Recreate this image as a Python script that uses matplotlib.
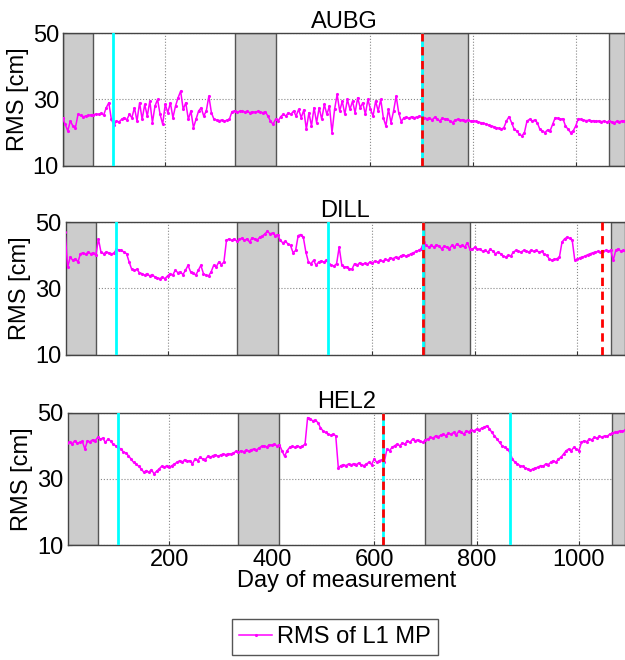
import numpy as np
import matplotlib
matplotlib.use("Agg")
import matplotlib.pyplot as plt

plt.rcParams['font.family'] = ['Liberation Sans', 'DejaVu Sans']

# day of measurement, sampled every 5 days
days = np.arange(0, 1100, 5)

stations = ['AUBG', 'DILL', 'HEL2']

rms_aubg = [
    24.3, 22.5, 20.5, 23.5, 22.0, 21.5, 25.5, 25.2, 24.8, 25.0,
    25.2, 25.3, 25.4, 25.6, 25.5, 25.8, 25.3, 27.5, 29.0, 24.0,
    22.3, 23.5, 23.2, 24.0, 24.5, 23.8, 25.5, 24.5, 27.5, 23.5,
    29.0, 24.0, 28.5, 25.0, 29.5, 23.0, 28.0, 30.0, 25.5, 22.5,
    28.5, 26.0, 29.0, 24.5, 28.0, 30.5, 32.5, 27.0, 29.0, 24.0,
    26.5, 21.5, 24.0, 26.5, 27.5, 25.0, 26.5, 31.0, 26.0, 24.0,
    23.8, 23.6, 23.8, 23.5, 23.7, 24.0, 26.3, 26.6, 26.2, 26.4,
    26.5, 26.2, 26.4, 26.0, 26.3, 26.1, 26.4, 26.2, 26.0, 26.3,
    25.0, 23.5, 22.5, 24.0, 23.5, 24.8, 25.5, 25.0, 26.0, 25.5,
    26.5, 25.0, 27.0, 24.5, 26.8, 21.0, 26.0, 22.0, 27.5, 23.0,
    27.5, 24.0, 28.5, 25.5, 28.0, 20.0, 27.0, 31.5, 26.5, 29.5,
    25.5, 30.0, 27.0, 29.5, 26.0, 30.5, 27.5, 29.0, 25.5, 30.0,
    27.0, 25.0, 29.5, 26.5, 30.0, 24.5, 22.0, 27.0, 23.0, 26.5,
    31.0, 26.0, 23.3, 24.5, 24.6, 24.3, 24.8, 24.5, 24.7, 24.9,
    24.8, 24.5, 24.2, 24.4, 23.8, 24.6, 24.0, 23.5, 24.3, 24.1,
    24.0, 23.5, 23.0, 23.8, 24.0, 23.7, 23.9, 23.6, 23.8, 23.5,
    23.6, 23.4, 23.2, 23.0, 22.8, 22.6, 22.3, 22.0, 21.8, 21.5,
    21.3, 21.0, 21.5, 23.5, 24.8, 23.0, 21.0, 20.5, 19.5, 19.0,
    20.0, 23.5, 24.0, 23.5, 23.8, 23.0, 21.0, 20.5, 20.0, 20.8,
    20.5, 22.5, 24.5, 24.3, 24.0, 24.2, 22.0, 21.0, 20.0, 20.5,
    22.0, 24.2, 24.0, 23.8, 23.6, 23.7, 23.5, 23.6, 23.4, 23.5,
    23.3, 23.5, 23.2, 23.4, 23.3, 23.0, 23.4, 23.3, 23.5, 23.4,
]

rms_dill = [
    47.0, 36.5, 39.5, 38.5, 39.0, 38.0, 40.5, 40.8, 40.3, 41.0,
    40.5, 40.8, 40.0, 45.0, 41.0, 40.5, 41.0, 40.8, 40.5, 40.6,
    41.8, 41.7, 41.5, 41.0, 40.5, 38.0, 35.8, 35.5, 35.8, 34.8,
    34.5, 34.0, 34.5, 33.8, 34.2, 33.5, 33.2, 33.0, 33.4, 33.0,
    33.8, 34.5, 34.0, 35.5, 34.8, 35.0, 34.2, 35.5, 37.0, 35.0,
    34.8, 34.0, 35.5, 37.0, 34.5, 34.0, 33.8, 35.0, 37.0, 36.5,
    38.0, 37.2, 38.0, 44.5, 45.0, 44.5, 45.0, 44.3, 44.8, 45.2,
    44.5, 45.0, 44.0, 45.3, 45.0, 44.6, 45.5, 45.8, 46.5, 47.3,
    46.5, 46.8, 46.0, 46.3, 44.5, 43.8, 44.2, 43.5, 43.0, 40.8,
    41.5, 46.0, 46.3, 45.5, 41.0, 38.0, 37.5, 38.5, 37.0, 38.0,
    38.3, 38.0, 38.5, 37.5, 37.0, 36.8, 37.5, 42.5, 37.2, 36.5,
    36.5, 36.0, 35.8, 37.5, 37.0, 37.8, 37.3, 37.6, 37.4, 38.0,
    37.7, 38.3, 38.0, 38.5, 38.2, 38.8, 38.5, 39.3, 39.0, 39.5,
    39.2, 39.8, 40.2, 39.8, 40.0, 40.5, 40.8, 41.2, 41.5, 42.0,
    44.0, 43.0, 42.5, 43.0, 42.5, 43.2, 42.8, 42.0, 42.8, 42.5,
    42.0, 43.0, 42.5, 43.5, 42.8, 43.0, 42.5, 43.8, 42.0, 41.8,
    42.5, 41.8, 42.0, 41.2, 41.5, 41.0, 41.8, 41.3, 40.5, 41.0,
    40.5, 39.8, 39.5, 40.0, 39.8, 41.0, 41.5, 41.2, 41.0, 41.5,
    41.3, 41.0, 41.6, 41.2, 41.5, 41.0, 41.2, 40.5, 40.0, 39.0,
    38.5, 38.8, 39.0, 39.5, 44.0, 45.0, 45.5, 45.2, 44.5, 38.5,
    38.8, 39.3, 39.5, 39.8, 40.2, 40.5, 40.8, 41.0, 41.2, 41.0,
    41.3, 41.5, 41.2, 41.6, 38.5, 41.5, 42.0, 41.2, 41.5, 41.0,
]

rms_hel2 = [
    40.9, 41.2, 40.5, 41.5, 40.8, 41.0, 41.3, 39.0, 41.5, 41.2,
    41.8, 41.5, 42.5, 42.0, 42.3, 41.0, 42.0, 41.5, 40.5, 40.0,
    39.5, 39.0, 38.2, 37.8, 37.0, 36.0, 35.0, 34.5, 33.8, 33.0,
    32.0, 32.5, 32.0, 32.8, 31.5, 32.3, 33.0, 33.8, 33.5, 34.0,
    33.5, 34.0, 34.5, 35.0, 35.5, 35.0, 35.8, 35.3, 35.5, 34.5,
    36.0, 35.5, 36.5, 36.0, 35.8, 36.8, 36.5, 37.0, 37.3, 36.8,
    37.2, 37.5, 37.3, 37.6, 37.5, 37.8, 38.3, 38.0, 38.5, 38.2,
    38.6, 38.4, 38.8, 39.0, 38.7, 39.3, 39.8, 40.0, 39.6, 40.3,
    40.2, 40.5, 40.0, 40.3, 38.5, 36.8, 38.5, 39.5, 39.8, 39.5,
    40.0, 39.6, 39.9, 40.5, 48.5, 48.2, 47.5, 47.8, 47.0, 45.5,
    44.5, 44.0, 43.5, 43.2, 43.5, 43.0, 33.3, 34.0, 34.3, 34.0,
    34.5, 34.2, 34.6, 34.3, 34.8, 34.2, 34.0, 34.5, 35.0, 34.3,
    36.0, 35.0, 35.5, 35.8, 35.2, 39.0, 38.5, 39.5, 40.0, 40.5,
    40.0, 40.8, 40.5, 41.5, 41.0, 42.0, 41.5, 41.8, 41.3, 41.0,
    41.8, 42.0, 42.5, 42.3, 43.0, 42.7, 43.2, 43.5, 43.0, 43.8,
    43.5, 44.0, 43.2, 44.3, 44.0, 43.5, 44.5, 44.2, 44.8, 44.5,
    45.0, 44.8, 45.3, 45.6, 46.0, 45.2, 44.0, 43.0, 42.0, 41.0,
    40.0, 39.5, 39.0, 38.0, 36.0, 35.0, 34.5, 34.0, 33.8, 33.3,
    33.0, 32.6, 33.0, 33.3, 33.5, 34.0, 33.8, 34.5, 34.3, 35.0,
    35.5, 35.0, 36.0, 36.5, 37.5, 38.5, 39.0, 38.5, 39.5, 39.0,
    38.5, 41.0, 41.5, 41.2, 42.0, 41.8, 42.5, 42.3, 42.8, 42.6,
    43.0, 42.8, 43.5, 43.8, 44.0, 44.2, 44.5, 44.3, 44.8, 44.6,
]

series = [rms_aubg, rms_dill, rms_hel2]

# shaded periods (start, end) in days
shaded = [(0, 60), (335, 415), (700, 790), (1065, 1100)]

# vertical markers per station
cyan_days = [[98, 700], [99, 513, 698], [99, 618, 865]]
red_days = [[700], [698, 1048], [618]]

x_end = [1096, 1093, 1090]

fig = plt.figure(figsize=(6.25, 6.6), dpi=100)

lefts = [0.101, 0.105, 0.108]
bottoms = [0.749, 0.4626, 0.1742]
h = 0.2006
fs = 17

for i in range(3):
    ax = fig.add_axes([lefts[i], bottoms[i], 1.0 - lefts[i], h])
    ax.set_axisbelow(True)
    for s, e in shaded:
        ax.axvspan(s, e, facecolor='#cccccc', edgecolor='#555555', linewidth=1.0, zorder=1)
    line, = ax.plot(days, series[i], color='#ff00ff', linewidth=1.1, marker='.',
                    markersize=2.5, zorder=3, label='RMS of L1 MP')
    for d in cyan_days[i]:
        ax.axvline(d, color='#00ffff', linewidth=2.0, zorder=4)
    for d in red_days[i]:
        ax.axvline(d, color='#ff0000', linewidth=2.0, linestyle=(0, (3, 2)), zorder=5)
    ax.set_xlim(1, x_end[i])
    ax.set_ylim(10, 50)
    ax.set_yticks([10, 30, 50])
    ax.set_xticks([200, 400, 600, 800, 1000])
    ax.grid(True, color='#888888', linestyle=':', linewidth=0.8)
    ax.tick_params(direction='in', length=3, labelsize=fs, color='#333333', pad=3)
    for sp in ax.spines.values():
        sp.set_color('#444444')
        sp.set_linewidth(1.0)
    ax.set_title(stations[i], fontsize=fs, pad=2)
    ax.set_ylabel('RMS [cm]', fontsize=fs, labelpad=3)
    if i < 2:
        ax.set_xticklabels([])
    else:
        ax.set_xlabel('Day of measurement', fontsize=fs, labelpad=-1)

fig.legend(handles=[line], loc='center', bbox_to_anchor=(0.536, 0.035),
           fontsize=fs, frameon=True, fancybox=False, edgecolor='#555555',
           framealpha=1, numpoints=1, handlelength=1.4, handletextpad=0.2,
           borderpad=0.3, borderaxespad=0)

fig.savefig('out.png', dpi=100)
